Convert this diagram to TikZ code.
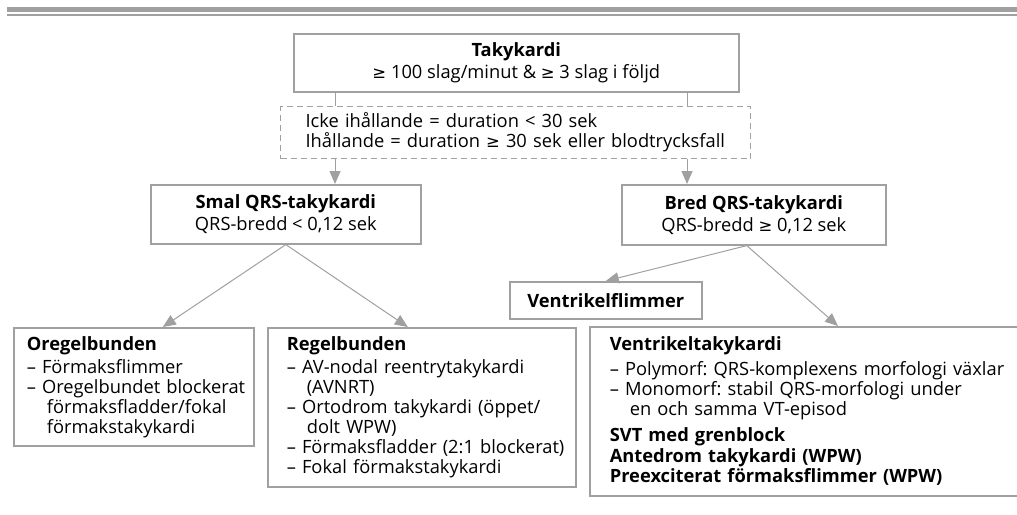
\documentclass[tikz,border=0pt]{standalone}
\usepackage{fontspec}
\setmainfont{Open Sans}
\newfontfamily\symbolfont[Scale=0.9]{DejaVu Sans}
\usetikzlibrary{arrows.meta, positioning, calc}
\definecolor{framegray}{RGB}{160,160,160}
\newcommand{\cont}{\hspace*{20pt}}
\newcommand{\geqsym}{{\symbolfont ≥}}
\tikzstyle{header} = [rectangle, draw=framegray, line width=1.6pt, anchor=north west, inner sep=0pt, text centered, align=center]
\tikzstyle{note} = [rectangle, draw=framegray, line width=1.2pt, dash pattern=on 6pt off 4pt, anchor=north west, inner sep=0pt, align=left]
\tikzstyle{listbox} = [rectangle, draw=framegray, line width=1.6pt, anchor=north west, inner sep=0pt, align=left]
\tikzstyle{link} = [draw=framegray, line width=1pt]
\tikzstyle{arrow_solid} = [draw=framegray, line width=1pt, -{Triangle[length=13pt,width=11pt]}]

\begin{document}
\frenchspacing
\begin{tikzpicture}[x=1pt, y=-1pt, font=\fontsize{18.3}{20}\selectfont]
	\useasboundingbox (0,0) rectangle (1017,514);

	% Top rule
	\fill [framegray] (7,7) rectangle (1017,12);
	\fill [framegray] (7,14) rectangle (1017,16);

		\node (taky) at (293,33) [header, minimum width=445pt, minimum height=58pt] {\textbf{Takykardi}\\[2pt] \geqsym{} 100 slag/minut \& \geqsym{} 3 slag i följd};

		\node (note) at (280,106) [note, text width=470pt, minimum height=52pt] {\leftskip=25pt Icke ihållande = duration < 30 sek\\ Ihållande = duration \geqsym{} 30 sek eller blodtrycksfall\par};

		\node (smal) at (150,184) [header, minimum width=270pt, minimum height=59pt] {\textbf{Smal QRS-takykardi}\\[2pt] QRS-bredd < 0,12 sek};

		\node (bred) at (621,184) [header, minimum width=264pt, minimum height=60pt] {\textbf{Bred QRS-takykardi}\\[2pt] QRS-bredd \geqsym{} 0,12 sek};

		\node (vf) at (509,281) [header, minimum width=192pt, minimum height=37pt] {\textbf{Ventrikelflimmer}};

		\node (oreg) at (13,327) [listbox, text width=240pt, minimum height=118pt] {\leftskip=13pt \textbf{Oregelbunden}\\[3pt]
			– Förmaksflimmer\\
			– Oregelbundet blockerat\\
			\cont förmaksfladder/fokal\\
			\cont förmakstakykardi\par};

		\node (reg) at (267,327) [listbox, text width=308pt, minimum height=159pt] {\leftskip=19pt \textbf{Regelbunden}\\[3pt]
			– AV-nodal reentrytakykardi\\
			\cont (AVNRT)\\
			– Ortodrom takykardi (öppet/\\
			\cont dolt WPW)\\
			– Förmaksfladder (2:1 blockerat)\\
			– Fokal förmakstakykardi\par};

		\node (vt) at (589,326) [listbox, text width=440pt, minimum height=169pt] {\leftskip=20pt \textbf{Ventrikeltakykardi}\\[5pt]
			– Polymorf: QRS-komplexens morfologi växlar\\
			– Monomorf: stabil QRS-morfologi under\\
			\cont en och samma VT-episod\\[6pt]
			\textbf{SVT med grenblock}\\[1pt]
			\textbf{Antedrom takykardi (WPW)}\\
			\textbf{Preexciterat förmaksflimmer (WPW)}\par};

		% Lanes through the dashed note
		\coordinate (left_lane) at (335,0);
		\coordinate (right_lane) at (687,0);
		\coordinate (bred_out) at ($(bred.south)+(-7,0)$);

		\draw [link] (taky.south -| left_lane) -- (note.north -| left_lane);
		\draw [link] (taky.south -| right_lane) -- (note.north -| right_lane);
		\draw [arrow_solid] (note.south -| left_lane) -- (smal.north -| left_lane);
		\draw [arrow_solid] (note.south -| right_lane) -- (bred.north -| right_lane);
		% -
		\draw [arrow_solid] (smal.south) -- ($(oreg.north)+(29,0)$);
		\draw [arrow_solid] (smal.south) -- ($(reg.north)+(-14,0)$);
		% -
		\draw [arrow_solid] (bred_out) -- (vf.north);
		\draw [arrow_solid] (bred_out) -- ($(vt.north west)+(249,0)$);

\end{tikzpicture}
\end{document}
